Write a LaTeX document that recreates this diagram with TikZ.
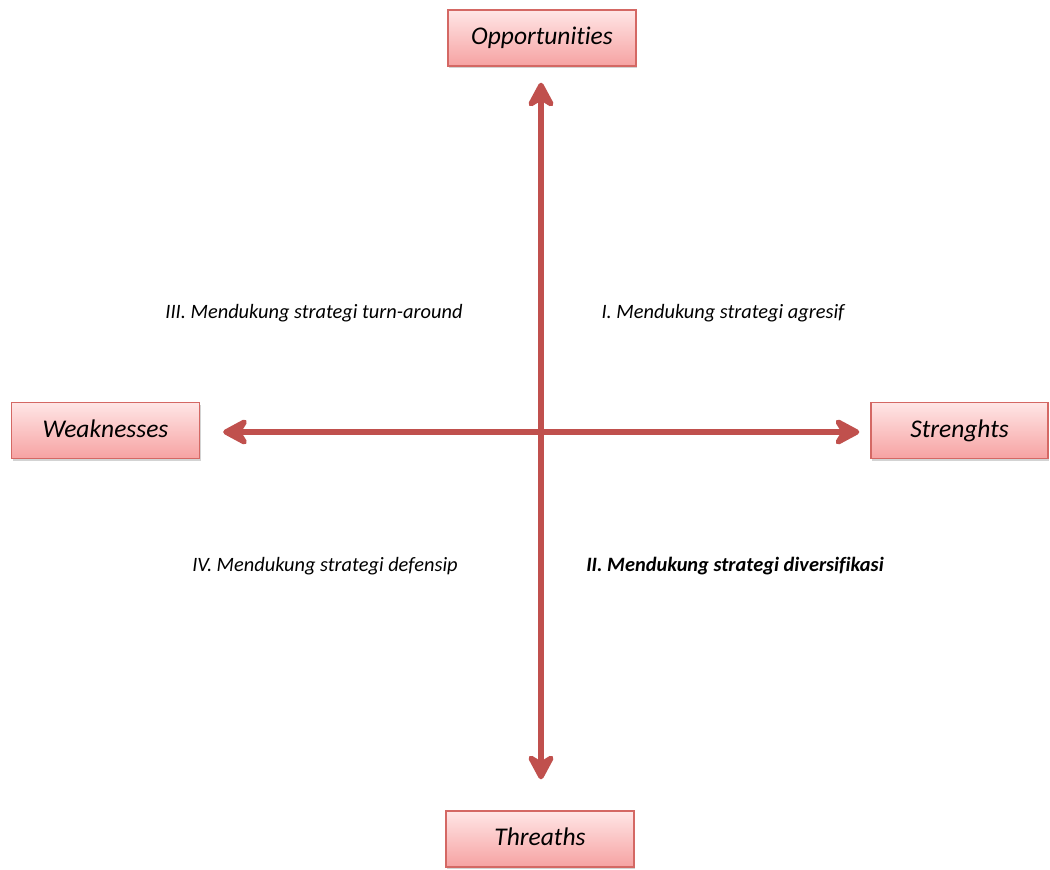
\documentclass[tikz,border=0pt]{standalone}
\usepackage{fontspec}
\setmainfont{Carlito}[Ligatures=NoCommon]
\usepackage{tikz}
\usetikzlibrary{arrows.meta,shadows,positioning}
\definecolor{axisred}{RGB}{192,80,77}
\definecolor{boxtop}{RGB}{255,230,230}
\definecolor{boxbot}{RGB}{246,162,162}
\definecolor{boxedge}{RGB}{212,104,100}

\begin{document}
\begin{tikzpicture}[x=0.02cm,y=-0.02cm,
  swotbox/.style={draw=boxedge,line width=0.8pt,top color=boxtop,bottom color=boxbot,
    drop shadow={shadow xshift=0.6pt,shadow yshift=-1.4pt,opacity=0.35},
    minimum width=3.76cm,minimum height=1.12cm,text height=1.9ex,text depth=0.3ex,
    font=\fontsize{14.5}{17}\selectfont\itshape},
  quadlabel/.style={font=\fontsize{11.6}{14}\selectfont\itshape},
  redtip/.tip={Stealth[length=0.62cm,width=0.66cm,inset=0.2cm,round]},
  axis/.style={draw=axisred,line width=3.4pt,redtip-redtip}]
\useasboundingbox (0,0) rectangle (1050,869);
%%%%%%%%%%%%%%%%
\node[swotbox] (opp) at (542,38) {Opportunities};
\node[swotbox] (thr) at (540,839) {Threaths};
\node[swotbox] (weak) at (105.5,430.5) {Weaknesses};
\node[swotbox,minimum width=3.54cm] (str) at (959.5,430.5) {Strenghts};
%%%%%%%%%%%%%%%%
\draw[axis,shorten <=0.32cm,shorten >=0.62cm] (opp.south -| 541,0) -- (thr.north -| 541,0);
\draw[axis,shorten <=0.46cm,shorten >=0.22cm] (weak.east |- 0,432) -- (str.west |- 0,432);
%%%%%%%%%%%%%%%%
\node[quadlabel] (q3) at (314,313) {III. Mendukung strategi turn-around};
\node[quadlabel] (q1) at (723,313) {I. Mendukung strategi agresif};
\node[quadlabel] (q4) at (325,566) {IV. Mendukung strategi defensip};
\node[quadlabel,font=\fontsize{11.6}{14}\selectfont\itshape\bfseries] (q2) at (735,566) {II. Mendukung strategi diversifikasi};
\end{tikzpicture}
\end{document}
